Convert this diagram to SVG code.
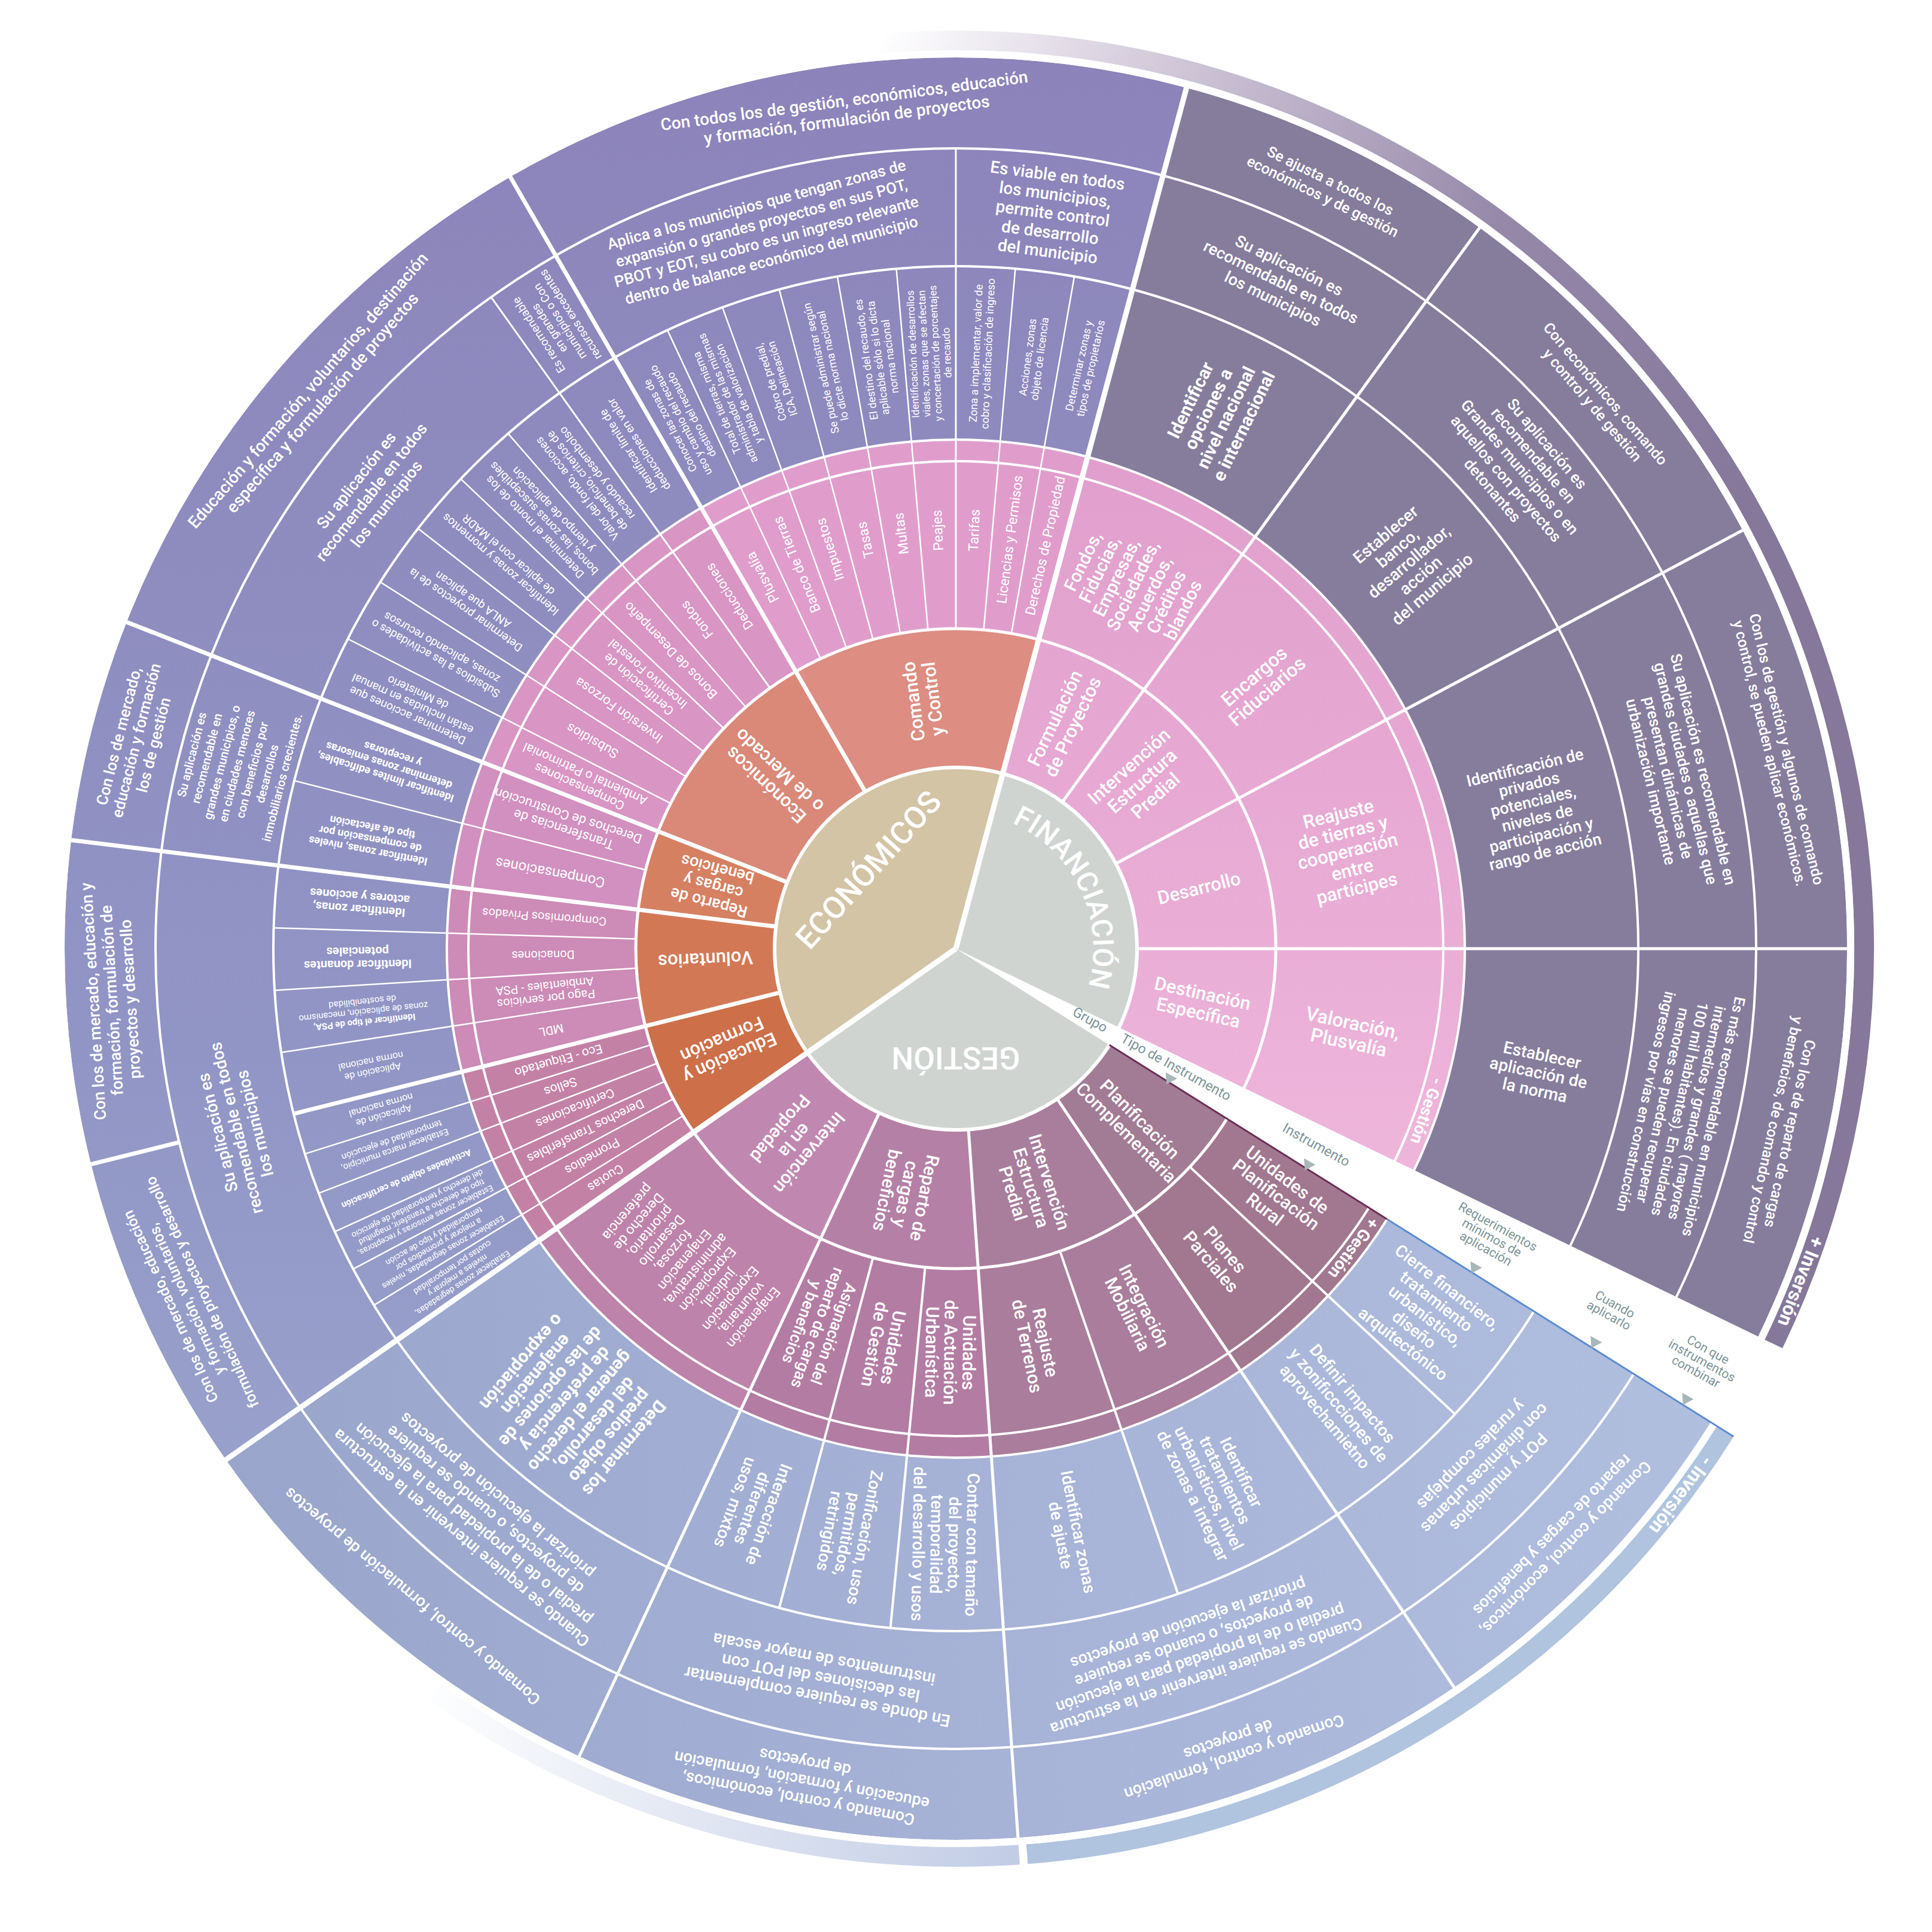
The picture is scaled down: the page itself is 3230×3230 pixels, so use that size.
<svg xmlns="http://www.w3.org/2000/svg" width="3230" height="3230" viewBox="0 0 3230 3230">
<defs>
<style>
text{font-family:Roboto,"Open Sans","Liberation Sans",sans-serif;fill:#fff;text-anchor:middle}
.m{font-weight:500}.b{font-weight:700}
.s14{font-size:14px}.s15{font-size:15px}.s16{font-size:16px}.s17{font-size:17px}.s18{font-size:18px}.s19{font-size:19px}.s20{font-size:20px}.s21{font-size:21px}.s22{font-size:22px}.s23{font-size:23px}.s24{font-size:24px}.s25{font-size:25px}.s26{font-size:26px}.s27{font-size:27px}.s28{font-size:28px}.s29{font-size:29px}.s30{font-size:30px}.s31{font-size:31px}.s32{font-size:32px}.s48{font-size:48px}.s52{font-size:52px}
.gl{fill:#7b9396;font-size:23px}
.f{fill:none}
.sep{stroke:#fff;fill:none}
</style>
<linearGradient id="gE" gradientUnits="userSpaceOnUse" x1="0" y1="-1500" x2="0" y2="1500"><stop offset="0" stop-color="#8c83ba"/><stop offset=".55" stop-color="#9195c5"/><stop offset="1" stop-color="#9eabd0"/></linearGradient>
<linearGradient id="gG" gradientUnits="userSpaceOnUse" x1="-1300" y1="0" x2="1300" y2="0"><stop offset="0" stop-color="#98a4ca"/><stop offset=".6" stop-color="#a8b4d8"/><stop offset="1" stop-color="#b1bfdf"/></linearGradient>
<linearGradient id="gF" gradientUnits="userSpaceOnUse" x1="0" y1="-850" x2="0" y2="400"><stop offset="0" stop-color="#e09ecc"/><stop offset="1" stop-color="#efb6db"/></linearGradient>
<linearGradient id="gP" gradientUnits="userSpaceOnUse" x1="-132" y1="-1512" x2="1315" y2="-759" gradientTransform="rotate(95)"><stop offset="0" stop-color="#ffffff"/><stop offset=".25" stop-color="#d5ccdc"/><stop offset=".65" stop-color="#9588a9"/><stop offset="1" stop-color="#85789b"/></linearGradient>
<linearGradient id="gM" gradientUnits="userSpaceOnUse" x1="150" y1="1510" x2="-900" y2="1240"><stop offset="0" stop-color="#bfcae4"/><stop offset="1" stop-color="#ffffff"/></linearGradient>
<path id="finArc" d="M-59.5,-222.2 A230,230 0 0 1 131.9,188.4"/>
</defs>
<rect width="3230" height="3230" fill="#fff"/>
<g transform="translate(1598,1586)">

<g id="fills">
<circle class="f" r="1170.5" stroke-width="639" pathLength="360" stroke="url(#gE)" stroke-dasharray="140 400" stroke-dashoffset="-145"/>
<circle class="f" r="1170.5" stroke-width="639" pathLength="360" stroke="url(#gG)" stroke-dasharray="112.9 400" stroke-dashoffset="-32.1"/>
<circle class="f" r="1170.5" stroke-width="639" pathLength="360" stroke="#867d9c" stroke-dasharray="100.8 400" transform="rotate(-75)"/>
<circle class="f" r="1518.5" stroke-width="33" pathLength="360" stroke="url(#gP)" stroke-dasharray="120.8 400" transform="rotate(-95)"/>
<circle class="f" r="1518.5" stroke-width="33" pathLength="360" stroke="#b0c4df" stroke-dasharray="53.4 400" transform="rotate(32.1)"/>
<circle class="f" r="1518.5" stroke-width="33" pathLength="360" stroke="url(#gM)" stroke-dasharray="39 400" stroke-dashoffset="-86"/>
<circle class="f" r="577" stroke-width="548" pathLength="360" stroke="url(#gF)" stroke-dasharray="75 400" stroke-dashoffset="-285"/>
<circle class="f" r="577" stroke-width="548" pathLength="360" stroke="url(#gF)" stroke-dasharray="25.8 400"/>
<circle class="f" r="693" stroke-width="316" pathLength="360" stroke="#e09dcc" stroke-dasharray="45 400" transform="rotate(-120)"/>
<circle class="f" r="693" stroke-width="316" pathLength="360" stroke="#d995c4" stroke-dasharray="38.5 400" transform="rotate(-158.5)"/>
<circle class="f" r="693" stroke-width="316" pathLength="360" stroke="#d190bf" stroke-dasharray="14.5 400" transform="rotate(-173)"/>
<circle class="f" r="693" stroke-width="316" pathLength="360" stroke="#cd8bb7" stroke-dasharray="21 400" transform="rotate(166)"/>
<circle class="f" r="693" stroke-width="316" pathLength="360" stroke="#c481a6" stroke-dasharray="21 400" transform="rotate(145)"/>
<circle class="f" r="693" stroke-width="316" pathLength="360" stroke="#a17890" stroke-dasharray="23.9 400" transform="rotate(32.1)"/>
<circle class="f" r="693" stroke-width="316" pathLength="360" stroke="#a97d9b" stroke-dasharray="30 400" transform="rotate(56)"/>
<circle class="f" r="693" stroke-width="316" pathLength="360" stroke="#b37ca3" stroke-dasharray="29 400" transform="rotate(86)"/>
<circle class="f" r="693" stroke-width="316" pathLength="360" stroke="#bd83aa" stroke-dasharray="30 400" transform="rotate(115)"/>
<circle class="f" r="419" stroke-width="232" pathLength="360" stroke="#dd8d81" stroke-dasharray="45 400" transform="rotate(-120)"/>
<circle class="f" r="419" stroke-width="232" pathLength="360" stroke="#da8878" stroke-dasharray="38.5 400" transform="rotate(-158.5)"/>
<circle class="f" r="419" stroke-width="232" pathLength="360" stroke="#d68062" stroke-dasharray="14.5 400" transform="rotate(-173)"/>
<circle class="f" r="419" stroke-width="232" pathLength="360" stroke="#d37855" stroke-dasharray="21 400" transform="rotate(166)"/>
<circle class="f" r="419" stroke-width="232" pathLength="360" stroke="#cd6f48" stroke-dasharray="21 400" transform="rotate(145)"/>
<circle class="f" r="419" stroke-width="232" pathLength="360" stroke="#a27b94" stroke-dasharray="23.9 400" transform="rotate(32.1)"/>
<circle class="f" r="419" stroke-width="232" pathLength="360" stroke="#a87e9c" stroke-dasharray="30 400" transform="rotate(56)"/>
<circle class="f" r="419" stroke-width="232" pathLength="360" stroke="#b580a6" stroke-dasharray="29 400" transform="rotate(86)"/>
<circle class="f" r="419" stroke-width="232" pathLength="360" stroke="#c088b0" stroke-dasharray="30 400" transform="rotate(115)"/>
<circle class="f" r="151.5" stroke-width="303" pathLength="360" stroke="#d3c4a6" stroke-dasharray="140 400" transform="rotate(145)"/>
<circle class="f" r="151.5" stroke-width="303" pathLength="360" stroke="#cfd4d1" stroke-dasharray="100.8 400" transform="rotate(-75)"/>
<circle class="f" r="151.5" stroke-width="303" pathLength="360" stroke="#cfd4d1" stroke-dasharray="112.9 400" transform="rotate(32.1)"/>
</g>

<g id="connectors" class="sep">
<circle r="303" stroke-width="6"/>
<circle r="535" stroke-width="5"/>
<circle r="815" stroke-width="4"/>
<circle r="851" stroke-width="4"/>
<circle r="1141" stroke-width="4"/>
<circle r="1338" stroke-width="4"/>
<circle r="1496" stroke-width="12"/>
<g stroke-width="9">
<line x1="0" x2="1490" transform="rotate(-75)"/>
<line x1="0" x2="1490" transform="rotate(145)"/>
</g>
<g stroke-width="7">
<line x1="303" x2="1490" transform="rotate(-120)"/>
<line x1="303" x2="1490" transform="rotate(-158.5)"/>
<line x1="303" x2="1490" transform="rotate(-173)"/>
<line x1="303" x2="1141" transform="rotate(166)"/>
<line x1="1338" x2="1490" transform="rotate(166)"/>
</g>
<g stroke-width="5">
<line x1="303" x2="1490" transform="rotate(-54)"/>
<line x1="303" x2="1490" transform="rotate(-28)"/>
<line x1="303" x2="1490" transform="rotate(0)"/>
<line x1="303" x2="1490" transform="rotate(56)"/>
<line x1="303" x2="1490" transform="rotate(86)"/>
<line x1="303" x2="1490" transform="rotate(115)"/>
</g>
<g stroke-width="4">
<line x1="535" x2="1141" transform="rotate(43)"/>
<line x1="535" x2="1141" transform="rotate(71)"/>
<line x1="535" x2="1141" transform="rotate(95.5)"/>
<line x1="535" x2="1141" transform="rotate(105)"/>
</g>
<g stroke-width="3">
<line x1="535" x2="1338" transform="rotate(-90)"/>
<line x1="535" x2="1338" transform="rotate(-125.5)"/>
</g>
<g stroke-width="2.5">
<line x1="535" x2="1141" transform="rotate(-80)"/>
<line x1="535" x2="1141" transform="rotate(-85)"/>
<line x1="535" x2="1141" transform="rotate(-95)"/>
<line x1="535" x2="1141" transform="rotate(-100)"/>
<line x1="535" x2="1141" transform="rotate(-105)"/>
<line x1="535" x2="1141" transform="rotate(-110)"/>
<line x1="535" x2="1141" transform="rotate(-115)"/>
<line x1="535" x2="1141" transform="rotate(-131)"/>
<line x1="535" x2="1141" transform="rotate(-136.5)"/>
<line x1="535" x2="1141" transform="rotate(-142)"/>
<line x1="535" x2="1141" transform="rotate(-147.5)"/>
<line x1="535" x2="1141" transform="rotate(-153)"/>
<line x1="535" x2="1141" transform="rotate(-165.75)"/>
<line x1="535" x2="1141" transform="rotate(-178.25)"/>
<line x1="535" x2="1141" transform="rotate(-183.5)"/>
<line x1="535" x2="1141" transform="rotate(-188.75)"/>
<line x1="535" x2="1141" transform="rotate(162.5)"/>
<line x1="535" x2="1141" transform="rotate(159)"/>
<line x1="535" x2="1141" transform="rotate(155.5)"/>
<line x1="535" x2="1141" transform="rotate(152)"/>
<line x1="535" x2="1141" transform="rotate(148.5)"/>
</g>
<line x1="303" x2="851" transform="rotate(32.1)" stroke="#6d2d58" stroke-width="3"/>
<line x1="851" x2="1535" transform="rotate(32.1)" stroke="#5b8dd0" stroke-width="3"/>
</g>

<g id="grupo">
<text class="s52 m" transform="translate(-146,-132) rotate(-48)" y="18">ECONÓMICOS</text>
<text class="s48 m"><textPath href="#finArc" startOffset="50%">FINANCIACIÓN</textPath></text>
<text class="s52 m" transform="translate(0,183) rotate(180)" y="18">GESTIÓN</text>
</g>

<g id="tipo-economicos" class="s31 m">
<text transform="rotate(-97.5) translate(419,0)"><tspan x="0" y="-5.65">Comando</tspan><tspan x="0" y="27.35">y Control</tspan></text>
<text transform="rotate(-137) translate(419,0)"><tspan x="0" y="-5.65">Económicos</tspan><tspan x="0" y="27.35">o de Mercado</tspan></text>
<text class="s27" transform="rotate(-165.5) translate(419,0)"><tspan x="0" y="-19.55">Reparto de</tspan><tspan x="0" y="9.45">cargas y</tspan><tspan x="0" y="38.45">beneficios</tspan></text>
<text transform="rotate(177.5) translate(419,0)" y="10.85">Voluntarios</text>
<text transform="rotate(156.5) translate(419,0)"><tspan x="0" y="-5.65">Educación y</tspan><tspan x="0" y="27.35">Formación</tspan></text>
</g>
<g id="tipo-financiacion" class="s31 m">
<text transform="rotate(-64.5) translate(419,0)"><tspan x="0" y="-5.65">Formulación</tspan><tspan x="0" y="27.35">de Proyectos</tspan></text>
<text transform="rotate(-42) translate(419,0)"><tspan x="0" y="-22.15">Intervención</tspan><tspan x="0" y="10.85">Estructura</tspan><tspan x="0" y="43.85">Predial</tspan></text>
<text transform="rotate(-14) translate(419,0)" y="10.85">Desarrollo</text>
<text transform="rotate(12.5) translate(419,0)"><tspan x="0" y="-5.65">Destinación</tspan><tspan x="0" y="27.35">Específica</tspan></text>
</g>
<g id="tipo-gestion" class="s30 m">
<text transform="rotate(45) translate(419,0)"><tspan x="0" y="-5.5">Planificación</tspan><tspan x="0" y="26.5">Complementaria</tspan></text>
<text transform="rotate(72.5) translate(419,0)"><tspan x="0" y="-21.5">Intervención</tspan><tspan x="0" y="10.5">Estructura</tspan><tspan x="0" y="42.5">Predial</tspan></text>
<text transform="rotate(101.5) translate(419,0)"><tspan x="0" y="-21.5">Reparto de</tspan><tspan x="0" y="10.5">cargas y</tspan><tspan x="0" y="42.5">beneficios</tspan></text>
<text transform="rotate(130) translate(419,0)"><tspan x="0" y="-21.5">Intervención</tspan><tspan x="0" y="10.5">en la</tspan><tspan x="0" y="42.5">Propiedad</tspan></text>
</g>

<g id="instrumento-economicos" class="s23">
<text transform="rotate(-77.5) translate(690,0)" y="8">Derechos de Propiedad</text>
<text transform="rotate(-82.5) translate(690,0)" y="8">Licencias y Permisos</text>
<text transform="rotate(-87.5) translate(700,0)" y="8">Tarifas</text>
<text transform="rotate(-92.5) translate(700,0)" y="8">Peajes</text>
<text transform="rotate(-97.5) translate(700,0)" y="8">Multas</text>
<text transform="rotate(-102.5) translate(700,0)" y="8">Tasas</text>
<text transform="rotate(-107.5) translate(700,0)" y="8">Impuestos</text>
<text transform="rotate(-112.5) translate(695,0)" y="8">Banco de Tierras</text>
<text transform="rotate(-117.5) translate(700,0)" y="8">Plusvalía</text>
<g class="s22">
<text transform="rotate(-122.75) translate(700,0)" y="7.7">Deducciones</text>
<text transform="rotate(-128.25) translate(700,0)" y="7.7">Fondos</text>
<text transform="rotate(-133.75) translate(690,0)" y="7.7">Bonos de Desempeño</text>
<text class="s21" transform="rotate(-139.25) translate(690,0)"><tspan x="0" y="-4.2">Certificación de</tspan><tspan x="0" y="18.9">Incentivo Forestal</tspan></text>
<text transform="rotate(-144.75) translate(690,0)" y="7.7">Inversión Forzosa</text>
<text transform="rotate(-150.25) translate(700,0)" y="7.7">Subsidios</text>
<text class="s21" transform="rotate(-155.75) translate(685,0)"><tspan x="0" y="-4.2">Compensaciones</tspan><tspan x="0" y="18.9">Ambiental o Patrimonial</tspan></text>
<text transform="rotate(-162.1) translate(685,0)"><tspan x="0" y="-4.3">Transferencias de</tspan><tspan x="0" y="19.7">Derechos de Construcción</tspan></text>
<text class="s24" transform="rotate(-169.4) translate(690,0)" y="8.4">Compensaciones</text>
</g>
<g class="s20">
<text transform="rotate(-175.6) translate(690,0)" y="7">Compromisos  Privados</text>
<text transform="rotate(-180.9) translate(690,0)" y="7">Donaciones</text>
<text transform="rotate(-186.1) translate(690,0)"><tspan x="0" y="-3.5">Pago por servicios</tspan><tspan x="0" y="17.5">Ambientales - PSA</tspan></text>
<text transform="rotate(-191.4) translate(690,0)" y="7">MDL</text>
</g>
<g class="s21">
<text transform="rotate(164.25) translate(690,0)" y="7.4">Eco - Etiquetado</text>
<text transform="rotate(160.75) translate(700,0)" y="7.4">Sellos</text>
<text transform="rotate(157.25) translate(690,0)" y="7.4">Certificaciones</text>
<text transform="rotate(153.75) translate(690,0)" y="7.4">Derechos Transferibles</text>
<text transform="rotate(150.25) translate(700,0)" y="7.4">Promedios</text>
<text transform="rotate(146.75) translate(700,0)" y="7.4">Cuotas</text>
</g>
</g>

<g id="instrumento-financiacion" class="s32 m">
<text class="s30" transform="rotate(-64) translate(675,0)"><tspan x="0" y="-82.5">Fondos,</tspan><tspan x="0" y="-51.5">Fiducias,</tspan><tspan x="0" y="-20.5">Empresas,</tspan><tspan x="0" y="10.5">Sociedades,</tspan><tspan x="0" y="41.5">Acuerdos,</tspan><tspan x="0" y="72.5">Créditos</tspan><tspan x="0" y="103.5">blandos</tspan></text>
<text transform="rotate(-41) translate(675,0)"><tspan x="0" y="-5.3">Encargos</tspan><tspan x="0" y="27.7">Fiduciarios</tspan></text>
<text class="s31" transform="rotate(-14) translate(675,0)"><tspan x="0" y="-53.15">Reajuste</tspan><tspan x="0" y="-21.15">de tierras y</tspan><tspan x="0" y="10.85">cooperación</tspan><tspan x="0" y="42.85">entre</tspan><tspan x="0" y="74.85">partícipes</tspan></text>
<text transform="rotate(12) translate(675,0)"><tspan x="0" y="-5.3">Valoración,</tspan><tspan x="0" y="27.7">Plusvalía</tspan></text>
</g>

<g id="instrumento-gestion" class="s30 m">
<text transform="rotate(37.5) translate(675,0)"><tspan x="0" y="-20.5">Unidades de</tspan><tspan x="0" y="10.5">Planificación</tspan><tspan x="0" y="41.5">Rural</tspan></text>
<text transform="rotate(49.5) translate(675,0)"><tspan x="0" y="-5">Planes</tspan><tspan x="0" y="26">Parciales</tspan></text>
<text transform="rotate(63.5) translate(675,0)"><tspan x="0" y="-5">Integración</tspan><tspan x="0" y="26">Mobiliaria</tspan></text>
<text transform="rotate(78.5) translate(675,0)"><tspan x="0" y="-5">Reajuste</tspan><tspan x="0" y="26">de Terrenos</tspan></text>
<text transform="rotate(90.75) translate(675,0)"><tspan x="0" y="-20.5">Unidades</tspan><tspan x="0" y="10.5">de Actuación</tspan><tspan x="0" y="41.5">Urbanística</tspan></text>
<text transform="rotate(100.25) translate(675,0)"><tspan x="0" y="-5">Unidades</tspan><tspan x="0" y="26">de Gestión</tspan></text>
<text class="s27" transform="rotate(110) translate(675,0)"><tspan x="0" y="-18.6">Asignación del</tspan><tspan x="0" y="9.5">reparto de cargas</tspan><tspan x="0" y="37.5">y beneficios</tspan></text>
<text class="s23" style="font-weight:400" transform="rotate(130) translate(690,0)"><tspan x="0" y="-129.5">Enajenación</tspan><tspan x="0" y="-104.5">voluntaria,</tspan><tspan x="0" y="-79.5">Expropiación</tspan><tspan x="0" y="-54.5">judicial,</tspan><tspan x="0" y="-29.5">Expropiación</tspan><tspan x="0" y="-4.5">administrativa,</tspan><tspan x="0" y="20.5">Enajenación</tspan><tspan x="0" y="45.5">forzosa,</tspan><tspan x="0" y="70.5">Desarrollo</tspan><tspan x="0" y="95.5">prioritario,</tspan><tspan x="0" y="120.5">Derecho de</tspan><tspan x="0" y="145.5">preferencia</tspan></text>
</g>

<g id="banda-gestion" class="s28 b">
<text transform="rotate(109) translate(0,-833)" y="10">- Gestión</text>
<text transform="rotate(127) translate(0,-833)" y="10">+ Gestión</text>
</g>

<g id="requerimientos-economicos" class="s18">
<text transform="rotate(-77.5) translate(996,0)"><tspan x="0" y="-3.7">Determinar zonas y</tspan><tspan x="0" y="16.3">tipos de propietarios</tspan></text>
<text transform="rotate(-82.5) translate(996,0)"><tspan x="0" y="-3.7">Acciones, zonas</tspan><tspan x="0" y="16.3">objeto de licencia</tspan></text>
<text transform="rotate(-87.5) translate(996,0)"><tspan x="0" y="-3.7">Zona a implementar, valor de</tspan><tspan x="0" y="16.3">cobro y clasificación de ingreso</tspan></text>
<text class="s17" transform="rotate(-92.5) translate(996,0)"><tspan x="0" y="-22.5">Identificación de desarrollos</tspan><tspan x="0" y="-3.5">viales, zonas que se afectan</tspan><tspan x="0" y="15.5">y concertación de porcentajes</tspan><tspan x="0" y="34.5">de recaudo</tspan></text>
<text transform="rotate(-97.5) translate(996,0)"><tspan x="0" y="-13.7">El destino del recaudo, es</tspan><tspan x="0" y="6.3">aplicable sólo si lo dicta</tspan><tspan x="0" y="26.3">norma nacional</tspan></text>
<text transform="rotate(-102.5) translate(996,0)"><tspan x="0" y="-3.7">Se puede administrar según</tspan><tspan x="0" y="16.3">lo dicte norma nacional</tspan></text>
<text transform="rotate(-107.5) translate(996,0)"><tspan x="0" y="-3.7">Cobro de predial,</tspan><tspan x="0" y="16.3">ICA, Delineación</tspan></text>
<text transform="rotate(-112.5) translate(996,0)"><tspan x="0" y="-13.7">Total de tierras, misma</tspan><tspan x="0" y="6.3">administrador de las mismas</tspan><tspan x="0" y="26.3">y tabla de valorización</tspan></text>
<text transform="rotate(-117.5) translate(996,0)"><tspan x="0" y="-13.7">Conocer las zonas de</tspan><tspan x="0" y="6.3">uso y cambio del recaudo</tspan><tspan x="0" y="26.3">destino del recaudo</tspan></text>
<g class="s19">
<text transform="rotate(-122.75) translate(996,0)"><tspan x="0" y="-3.85">Identificar límite de</tspan><tspan x="0" y="17.15">deducciones en valor</tspan></text>
<text transform="rotate(-128.25) translate(996,0)"><tspan x="0" y="-14.35">Valor del fondo, acciones</tspan><tspan x="0" y="6.65">de beneficio, criterios de</tspan><tspan x="0" y="27.65">recaudo y desembolso</tspan></text>
<text transform="rotate(-133.75) translate(996,0)"><tspan x="0" y="-14.35">Determinar el monto de los</tspan><tspan x="0" y="6.65">bonos, las zonas susceptibles</tspan><tspan x="0" y="27.65">y tiempo de aplicación</tspan></text>
<text transform="rotate(-139.25) translate(996,0)"><tspan x="0" y="-3.85">Identificar zonas y momentos</tspan><tspan x="0" y="17.15">de aplicar con el MADR</tspan></text>
<text transform="rotate(-144.75) translate(996,0)"><tspan x="0" y="-3.85">Determinar proyectos de la</tspan><tspan x="0" y="17.15">ANLA que aplican</tspan></text>
<text transform="rotate(-150.25) translate(996,0)"><tspan x="0" y="-3.85">Subsidios a las actividades o</tspan><tspan x="0" y="17.15">zonas, aplicando recursos</tspan></text>
<text transform="rotate(-155.75) translate(996,0)"><tspan x="0" y="-14.35">Determinar acciones que</tspan><tspan x="0" y="6.65">están incluidas en manual</tspan><tspan x="0" y="27.65">de Ministerio</tspan></text>
</g>
<text class="s18 b" transform="rotate(-162.1) translate(996,0)"><tspan x="0" y="-13.7">Identificar límites edificables,</tspan><tspan x="0" y="6.3">determinar zonas emisoras</tspan><tspan x="0" y="26.3">y receptoras</tspan></text>
<text class="s18 b" transform="rotate(-169.4) translate(996,0)"><tspan x="0" y="-13.7">Identificar zonas, niveles</tspan><tspan x="0" y="6.3">de compensación por</tspan><tspan x="0" y="26.3">tipo de afectación</tspan></text>
<text class="s20 b" transform="rotate(-175.6) translate(1000,0)"><tspan x="0" y="-4">Identificar zonas,</tspan><tspan x="0" y="18">actores y acciones</tspan></text>
<text class="s20 b" transform="rotate(-180.9) translate(1000,0)"><tspan x="0" y="-4">Identificar donantes</tspan><tspan x="0" y="18">potenciales</tspan></text>
<text class="s15" transform="rotate(-186.1) translate(996,0)"><tspan x="0" y="-11.75" class="b">Identificar el tipo de PSA,</tspan><tspan x="0" y="5.25">zonas de aplicación, mecanismo</tspan><tspan x="0" y="22.25">de sostenibilidad</tspan></text>
<text class="s16" transform="rotate(-191.4) translate(996,0)"><tspan x="0" y="-3.4">Aplicación de</tspan><tspan x="0" y="14.6">norma nacional</tspan></text>
<text class="s16" transform="rotate(164.25) translate(996,0)"><tspan x="0" y="-3.4">Aplicación de</tspan><tspan x="0" y="14.6">norma nacional</tspan></text>
<text class="s15" transform="rotate(160.75) translate(996,0)"><tspan x="0" y="-3.25">Establecer marca municipio,</tspan><tspan x="0" y="13.75">temporalidad de ejecución</tspan></text>
<text class="s15 b" transform="rotate(157.25) translate(996,0)" y="5.3">Actividades objeto de certificación</text>
<g class="s14">
<text transform="rotate(153.75) translate(996,0)"><tspan x="0" y="-10.6">Establecer zonas emisoras y receptoras,</tspan><tspan x="0" y="4.9">tipo de derecho a transferir, magnitud</tspan><tspan x="0" y="20.4">del derecho y temporalidad de ejercicio</tspan></text>
<text transform="rotate(150.25) translate(996,0)"><tspan x="0" y="-10.6">Establecer zonas degradadas, niveles</tspan><tspan x="0" y="4.9">a mejorar y promedios por</tspan><tspan x="0" y="20.4">temporalidad y tipo de acción</tspan></text>
<text transform="rotate(146.75) translate(996,0)"><tspan x="0" y="-10.6">Establecer zonas degradadas,</tspan><tspan x="0" y="4.9">niveles a mejorar y</tspan><tspan x="0" y="20.4">cuotas por temporalidad</tspan></text>
</g>
</g>

<g id="requerimientos-financiacion" class="s28 m">
<text class="s30 b" transform="rotate(-64) translate(996,0)"><tspan x="0" y="-39">Identificar</tspan><tspan x="0" y="-6">opciones a</tspan><tspan x="0" y="27">nivel nacional</tspan><tspan x="0" y="60">e internacional</tspan></text>
<text transform="rotate(-40.5) translate(996,0)"><tspan x="0" y="-50.2">Establecer</tspan><tspan x="0" y="-20.2">banco,</tspan><tspan x="0" y="9.8">desarrollador,</tspan><tspan x="0" y="39.8">acción</tspan><tspan x="0" y="69.8">del municipio</tspan></text>
<text class="s27" transform="rotate(-13.5) translate(996,0)"><tspan x="0" y="-63.05">Identificación de</tspan><tspan x="0" y="-34.05">privados</tspan><tspan x="0" y="-5.05">potenciales,</tspan><tspan x="0" y="23.95">niveles de</tspan><tspan x="0" y="52.95">participación y</tspan><tspan x="0" y="81.95">rango de acción</tspan></text>
<text transform="rotate(12) translate(996,0)"><tspan x="0" y="-20.2">Establecer</tspan><tspan x="0" y="9.8">aplicación de</tspan><tspan x="0" y="39.8">la norma</tspan></text>
</g>

<g id="requerimientos-gestion" class="s28 m">
<text transform="rotate(38) translate(996,0)"><tspan x="0" y="-50.2">Cierre financiero,</tspan><tspan x="0" y="-20.2">tratamiento</tspan><tspan x="0" y="9.8">urbanístico,</tspan><tspan x="0" y="39.8">diseño</tspan><tspan x="0" y="69.8">arquitectónico</tspan></text>
<text transform="rotate(50) translate(996,0)"><tspan x="0" y="-20.2">Definir impactos</tspan><tspan x="0" y="9.8">y zonificcciones de</tspan><tspan x="0" y="39.8">aprovechamietno</tspan></text>
<text transform="rotate(64) translate(996,0)"><tspan x="0" y="-35.2">Identificar</tspan><tspan x="0" y="-5.2">tratamientos</tspan><tspan x="0" y="24.8">urbanísticos, nivel</tspan><tspan x="0" y="54.8">de zonas a integrar</tspan></text>
<text transform="rotate(79) translate(996,0)"><tspan x="0" y="-5.2">Identificar zonas</tspan><tspan x="0" y="24.8">de ajuste</tspan></text>
<text transform="rotate(91) translate(996,0)"><tspan x="0" y="-35.2">Contar con tamaño</tspan><tspan x="0" y="-5.2">del proyecto,</tspan><tspan x="0" y="24.8">temporalidad</tspan><tspan x="0" y="54.8">del desarrollo y usos</tspan></text>
<text transform="rotate(100.5) translate(996,0)"><tspan x="0" y="-20.2">Zonificación, usos</tspan><tspan x="0" y="9.8">permitidos,</tspan><tspan x="0" y="39.8">retringidos</tspan></text>
<text transform="rotate(110) translate(996,0)"><tspan x="0" y="-20.2">Interacción de</tspan><tspan x="0" y="9.8">diferentes</tspan><tspan x="0" y="39.8">usos, mixtos</tspan></text>
<text class="s30 b" transform="rotate(130) translate(996,0)"><tspan x="0" y="-101.5">Determinar los</tspan><tspan x="0" y="-69.5">predios objeto</tspan><tspan x="0" y="-37.5">del desarrollo,</tspan><tspan x="0" y="-5.5">generar el derecho</tspan><tspan x="0" y="26.5">de preferencia y</tspan><tspan x="0" y="58.5">de las opciones de</tspan><tspan x="0" y="90.5">enajenación</tspan><tspan x="0" y="122.5">o expropiación</tspan></text>
</g>

<g id="cuando-economicos" class="s26 m">
<text class="s28" transform="rotate(7.5) translate(0,-1240)"><tspan x="0" y="-54.2">Es viable en todos</tspan><tspan x="0" y="-22.2">los municipios,</tspan><tspan x="0" y="9.8">permite control</tspan><tspan x="0" y="41.8">de desarrollo</tspan><tspan x="0" y="73.8">del municipio</tspan></text>
<text transform="rotate(-15) translate(0,-1240)"><tspan x="0" y="-38.9">Aplica a los municipios que tengan zonas de</tspan><tspan x="0" y="-6.9">expansión o grandes proyectos en sus POT,</tspan><tspan x="0" y="25.1">PBOT y EOT, su cobro es un ingreso relevante</tspan><tspan x="0" y="57.1">dentro de balance económico del municipio</tspan></text>
<text class="s19" style="font-weight:400" transform="rotate(-122.75) translate(1240,0)"><tspan x="0" y="-24.85">Es recomendable</tspan><tspan x="0" y="-3.85">en grandes</tspan><tspan x="0" y="17.15">municipios o Con</tspan><tspan x="0" y="38.15">recursos excedentes</tspan></text>
<text class="s27" transform="rotate(-52) translate(0,-1240)"><tspan x="0" y="-22.55">Su aplicación es</tspan><tspan x="0" y="9.45">recomendable en todos</tspan><tspan x="0" y="41.45">los municipios</tspan></text>
<text class="s20" transform="rotate(-75.75) translate(0,-1240)"><tspan x="0" y="-71">Su aplicación es</tspan><tspan x="0" y="-45">recomendable en</tspan><tspan x="0" y="-19">grandes municipios, o</tspan><tspan x="0" y="7">en ciudades menores</tspan><tspan x="0" y="33">con beneficios por</tspan><tspan x="0" y="59">desarrollos</tspan><tspan x="0" y="85">inmobiliarios crecientes.</tspan></text>
<text class="s28" transform="rotate(256) translate(0,-1240)"><tspan x="0" y="-22.2">Su aplicación es</tspan><tspan x="0" y="9.8">recomendable en todos</tspan><tspan x="0" y="41.8">los municipios</tspan></text>
</g>

<g id="cuando-financiacion" class="s26 m">
<text class="s27" transform="rotate(26) translate(0,-1240)"><tspan x="0" y="-21.55">Su aplicación es</tspan><tspan x="0" y="9.45">recomendable en todos</tspan><tspan x="0" y="40.45">los municipios</tspan></text>
<text transform="rotate(49.5) translate(0,-1240)"><tspan x="0" y="-50.9">Su aplicación es</tspan><tspan x="0" y="-20.9">recomendable en</tspan><tspan x="0" y="9.1">Grandes municipios o en</tspan><tspan x="0" y="39.1">aquellos con proyectos</tspan><tspan x="0" y="69.1">detonantes</tspan></text>
<text transform="rotate(76.5) translate(0,-1240)"><tspan x="0" y="-35.9">Su aplicación es recomendable en</tspan><tspan x="0" y="-5.9">grandes ciudades o aquellas que</tspan><tspan x="0" y="24.1">presentan dinámicas de</tspan><tspan x="0" y="54.1">urbanización importante</tspan></text>
<text class="s25" transform="rotate(102.5) translate(0,-1240)"><tspan x="0" y="-49.25">Es más recomendable en municipios</tspan><tspan x="0" y="-20.25">intermedios y grandes ( mayores</tspan><tspan x="0" y="8.75">100 mil habitantes). En ciudades</tspan><tspan x="0" y="37.75">menores se pueden recuperar</tspan><tspan x="0" y="66.75">ingresos por vías en construcción</tspan></text>
</g>

<g id="cuando-gestion" class="s27 m">
<text class="s28" transform="rotate(134.5) translate(0,-1240)"><tspan x="0" y="-22.2">POT y municipios</tspan><tspan x="0" y="9.8">con dinámicas urbanas</tspan><tspan x="0" y="41.8">y rurales complejas</tspan></text>
<text transform="rotate(161) translate(0,-1240)"><tspan x="0" y="-37">Cuando se requiere intervenir en la estructura</tspan><tspan x="0" y="-6">predial o de la propiedad para la ejecución</tspan><tspan x="0" y="25">de proyectos, o cuando se requiere</tspan><tspan x="0" y="56">priorizar la ejecución de proyectos</tspan></text>
<text class="s28" transform="rotate(190.5) translate(0,-1240)"><tspan x="0" y="-22.2">En donde se requiere complementar</tspan><tspan x="0" y="9.8">las decisiones del POT con</tspan><tspan x="0" y="41.8">instrumentos de mayor escala</tspan></text>
<text transform="rotate(220) translate(0,-1240)"><tspan x="0" y="-37">Cuando se requiere intervenir en la estructura</tspan><tspan x="0" y="-6">predial o de la propiedad para la ejecución</tspan><tspan x="0" y="25">de proyectos, o cuando se requiere</tspan><tspan x="0" y="56">priorizar la ejecución de proyectos</tspan></text>
</g>

<g id="combinar-economicos" class="s28 m">
<text transform="rotate(-7.5) translate(0,-1414)"><tspan x="0" y="-6.2">Con todos los de gestión, económicos, educación</tspan><tspan x="0" y="25.8">y formación, formulación de proyectos</tspan></text>
<text transform="rotate(-49.25) translate(0,-1414)"><tspan x="0" y="-6.2">Educación y formación, voluntarios, destinación</tspan><tspan x="0" y="25.8">específica y formulación de proyectos</tspan></text>
<text class="s26" transform="rotate(-75.75) translate(0,-1414)"><tspan x="0" y="-20.9">Con los de mercado,</tspan><tspan x="0" y="9.1">educación y formación</tspan><tspan x="0" y="39.1">los de gestión</tspan></text>
<text class="s27" transform="rotate(266.5) translate(0,-1414)"><tspan x="0" y="-21.55">Con los de mercado, educación y</tspan><tspan x="0" y="9.45">formación,  formulación de</tspan><tspan x="0" y="40.45">proyectos y  desarrollo</tspan></text>
<text class="s25" transform="rotate(245.5) translate(0,-1414)"><tspan x="0" y="-20.25">Con los de mercado, educación</tspan><tspan x="0" y="8.75">y formación, voluntarios,</tspan><tspan x="0" y="37.75">formulación de proyectos y desarrollo</tspan></text>
</g>

<g id="combinar-financiacion" class="s25 m">
<text transform="rotate(26) translate(0,-1414)"><tspan x="0" y="-5.75">Se ajusta a todos los</tspan><tspan x="0" y="23.25">económicos y de gestión</tspan></text>
<text transform="rotate(49.5) translate(0,-1414)"><tspan x="0" y="-5.75">Con económicos, comando</tspan><tspan x="0" y="23.25">y control y de gestión</tspan></text>
<text transform="rotate(76.5) translate(0,-1414)"><tspan x="0" y="-5.75">Con los de gestión y algunos de comando</tspan><tspan x="0" y="23.25">y control, se pueden aplicar económicos.</tspan></text>
<text transform="rotate(102.5) translate(0,-1414)"><tspan x="0" y="-5.75">Con los de reparto de cargas</tspan><tspan x="0" y="23.25">y beneficios, de comando y control</tspan></text>
</g>

<g id="combinar-gestion" class="s27 m">
<text transform="rotate(134.5) translate(0,-1414)"><tspan x="0" y="-6.05">Comando y control, económicos,</tspan><tspan x="0" y="24.95">reparto de cargas y beneficios</tspan></text>
<text transform="rotate(161) translate(0,-1414)"><tspan x="0" y="-6.05">Comando y control, formulación</tspan><tspan x="0" y="24.95">de proyectos</tspan></text>
<text transform="rotate(190.5) translate(0,-1414)"><tspan x="0" y="-21.55">Comando y control, económicos,</tspan><tspan x="0" y="9.45">educación y formación, formulación</tspan><tspan x="0" y="40.45">de proyectos</tspan></text>
<text transform="rotate(220) translate(0,-1414)" y="9.45">Comando y control, formulación de proyectos</text>
</g>

<g id="inversion" class="s32 b">
<text transform="rotate(111.5) translate(0,-1518.5)" y="11">+ Inversión</text>
<text transform="rotate(127) translate(0,-1518.5)" y="11">- Inversión</text>
</g>

<g id="leyenda" transform="rotate(28.95)">
<g fill="#a9b7b9">
<polygon points="407,11 429,11 418,28"/>
<polygon points="679,25 701,25 690,42"/>
<polygon points="1006,41 1028,41 1017,58"/>
<polygon points="1242,53 1264,53 1253,70"/>
<polygon points="1422,62 1444,62 1433,79"/>
</g>
<text class="gl" x="254" y="3">Grupo</text>
<text class="gl" x="418" y="3">Tipo de Instrumento</text>
<text class="gl" x="686" y="3">Instrumento</text>
<text class="gl" style="font-size:21px"><tspan x="1018" y="-25">Requerimientos</tspan><tspan x="1018" y="-4">mínimos de</tspan><tspan x="1018" y="17">aplicación</tspan></text>
<text class="gl" style="font-size:21px"><tspan x="1252" y="-6">Cuando</tspan><tspan x="1252" y="15">aplicarlo</tspan></text>
<text class="gl" style="font-size:21px"><tspan x="1425" y="-15">Con que</tspan><tspan x="1425" y="6">instrumentos</tspan><tspan x="1425" y="27">combinar</tspan></text>
</g>

</g>
</svg>
